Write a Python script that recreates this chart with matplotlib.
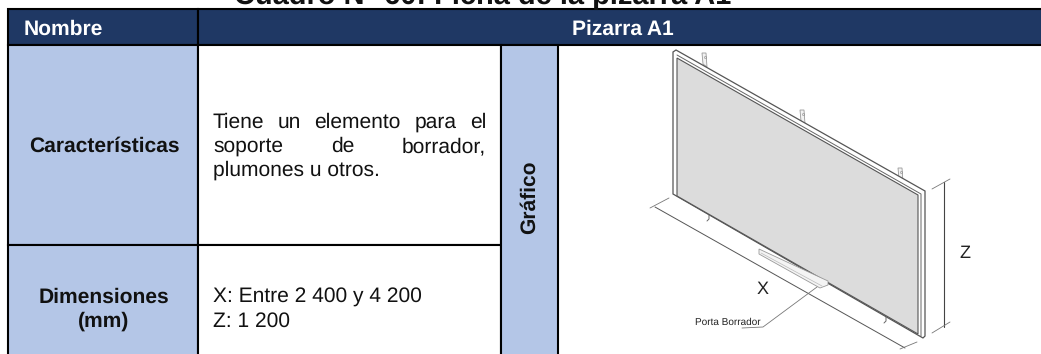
import matplotlib
matplotlib.use("Agg")
from matplotlib import pyplot as plt
from matplotlib.patches import Polygon, Rectangle

plt.rcParams['font.family'] = ['Liberation Sans', 'DejaVu Sans']
plt.rcParams['text.hinting'] = 'none'
plt.rcParams['text.hinting_factor'] = 1

# table text
title = "Cuadro N° 60: Ficha de la pizarra A1"
header_left = "Nombre"
header_right = "Pizarra A1"
row_labels = ["Características", "Dimensiones", "(mm)"]
side_label = "Gráfico"
caract_lines = ["Tiene un elemento para el", "soporte de borrador,", "plumones u otros."]
dim_lines = ["X: Entre 2 400 y 4 200", "Z: 1 200"]
drawing_labels = ["X", "Z", "Porta Borrador"]

# colours
NAVY = "#1F3864"
LIGHT = "#B4C6E7"
GRID = "#000000"
INK = "#4a4a4a"
TEXT = "#111111"
FS = 15.2

# layout in pixels, y going down
W, H = 1041, 354
X0, X1, X2, X3 = 8, 198, 501, 558
Y0, Y1, Y2 = 9, 45, 245

fig = plt.figure(figsize=(W / 100, H / 100), dpi=100, facecolor="white")
ax = fig.add_axes([0, 0, 1, 1])
ax.set_xlim(0, W)
ax.set_ylim(H, 0)
ax.axis("off")


def cell(x0, y0, x1, y1, color):
    ax.add_patch(Rectangle((x0, y0), x1 - x0, y1 - y0, facecolor=color,
                           edgecolor=GRID, linewidth=1.5, zorder=2))


def body(x, y, s, ha="left", bold=False, color=TEXT):
    return ax.text(x, y, s, fontsize=FS, va="baseline", ha=ha, color=color,
                   fontweight="bold" if bold else "normal", zorder=5)


def justified(text, x0, x1, y):
    # spread the words across the cell, like the justified text in the source
    words = text.split()
    items = [body(x0, y, w) for w in words]
    rend = fig.canvas.get_renderer()
    widths = [t.get_window_extent(rend).width for t in items]
    gap = (x1 - x0 - sum(widths)) / (len(words) - 1)
    x = x0
    for t, w in zip(items, widths):
        t.set_x(x)
        x += w + gap


def poly(pts, face="none", edge=INK, lw=0.7, z=3):
    ax.add_patch(Polygon(pts, closed=True, facecolor=face, edgecolor=edge, linewidth=lw, zorder=z))


def line(xs, ys, color=INK, lw=0.7, z=4):
    ax.plot(xs, ys, color=color, linewidth=lw, zorder=z, solid_capstyle="round")


# title, cut by the top edge of the image
ax.text(234, 3.5, title, fontsize=20.8, fontweight="bold", va="baseline", ha="left", color=TEXT, clip_on=False)

# header row
cell(X0, Y0, X1, Y1, NAVY)
cell(X1, Y0, W + 10, Y1, NAVY)
body(24, 35, header_left, bold=True, color="white")
body(623, 35, header_right, ha="center", bold=True, color="white")

# body cells
cell(X0, Y1, X1, Y2, LIGHT)
cell(X0, Y2, X1, H + 10, LIGHT)
cell(X1, Y1, X2, Y2, "white")
cell(X1, Y2, X2, H + 10, "white")
cell(X2, Y1, X3, H + 10, LIGHT)

body(104, 152, row_labels[0], ha="center", bold=True)
body(104, 303, row_labels[1], ha="center", bold=True)
body(104, 327, row_labels[2], ha="center", bold=True)
ax.text(530, 197, side_label, fontsize=FS, fontweight="bold", color=TEXT, va="center", ha="center",
        rotation=90, zorder=5)

justified(caract_lines[0], 213, 486, 128)
justified(caract_lines[1], 213, 486, 152)
body(213, 176, caract_lines[2])
body(213, 303, dim_lines[0])
body(213, 327, dim_lines[1])

# whiteboard drawing: frame, board face, inner bevel
poly([(673, 52), (676, 50), (925, 191), (925, 336), (923, 338), (673, 194)], face="white", edge="#555555", lw=0.9)
poly([(677, 58), (918, 195), (918, 334), (677, 196)], face="#DCDCDC", edge="#555555", lw=0.8)
line([677, 921, 921], [55, 194, 336], color="#666666")

# wall brackets on the top edge
for bx, by in [(702, 53), (800, 110), (898, 168)]:
    poly([(bx, by), (bx + 4, by), (bx + 5, by + 14), (bx + 1, by + 11)], face="#F2F2F2", edge="#999999", lw=0.6, z=2.5)
    ax.plot([bx + 2.5], [by + 4], marker="o", markersize=1.5, markerfacecolor="none",
            markeredgecolor="#888888", markeredgewidth=0.4, zorder=4)

# hooks on the bottom edge
for bx, by in [(708, 219), (885, 321)]:
    line([bx + 1, bx + 1, bx - 1], [by - 4, by, by + 2], color="#666666", lw=0.7)

# eraser tray
poly([(759, 249), (759, 254), (820, 288), (828, 285), (828, 281)], face="#F4F4F4", edge="#999999", lw=0.6)
line([761, 822], [253, 286], color="#bbbbbb", lw=0.5)

# dimension X
line([655, 905], [207, 348], color="#555555", lw=0.7)
line([650, 669], [208, 198], color="#777777", lw=0.6)
line([900, 917], [349, 342], color="#777777", lw=0.6)

# dimension Z
line([944, 944], [182, 327], color="#444444", lw=0.8)
line([932, 950], [189, 179], color="#777777", lw=0.6)
line([932, 950], [333, 322], color="#777777", lw=0.6)

# leader for the tray label
line([742, 763, 817], [328, 327, 287], color="#777777", lw=0.6)

ax.text(763, 289, drawing_labels[0], fontsize=13, va="center", ha="center", color="#222222", zorder=5)
ax.text(965, 253, drawing_labels[1], fontsize=13, va="center", ha="center", color="#222222", zorder=5)
ax.text(695, 322, drawing_labels[2], fontsize=7.1, va="center", ha="left", color="#222222", zorder=5)

fig.savefig("out.png", dpi=100, facecolor="white")
